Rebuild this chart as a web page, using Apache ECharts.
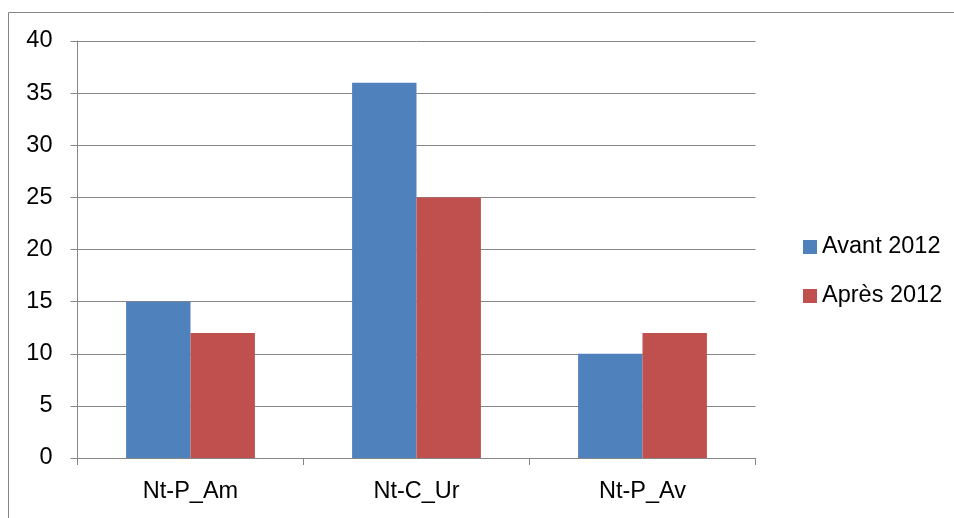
<!DOCTYPE html>
<html>
<head>
<meta charset="utf-8">
<script src="https://cdn.jsdelivr.net/npm/echarts@6/dist/echarts.min.js"></script>
<style>
html,body{margin:0;padding:0;background:#fff;}
#chart{width:954px;height:518px;}
</style>
</head>
<body>
<div id="chart"></div>
<script>
var categories = ['Nt-P_Am', 'Nt-C_Ur', 'Nt-P_Av'];
var seriesNames = ['Avant 2012', 'Après 2012'];
var avant2012 = [15, 36, 10];
var apres2012 = [12, 25, 12];
var yTicks = [0, 5, 10, 15, 20, 25, 30, 35, 40];

var FONT = '"Liberation Sans", Arial, sans-serif';
var GREY = '#868686';
var FS = 23.5;

var chart = echarts.init(document.getElementById('chart'), null, {renderer: 'canvas'});
chart.setOption({
  animation: false,
  backgroundColor: '#ffffff',
  graphic: [{
    type: 'rect',
    shape: {x: 8.5, y: 12.5, width: 2000, height: 2000},
    style: {fill: 'none', stroke: GREY, lineWidth: 1},
    silent: true
  }],
  grid: {left: 77.5, right: 198.5, top: 41, bottom: 60, containLabel: false},
  legend: {
    orient: 'vertical',
    left: 798,
    top: 230,
    itemWidth: 14,
    itemHeight: 14,
    itemGap: 25,
    icon: 'rect',
    data: seriesNames,
    textStyle: {fontFamily: FONT, fontSize: FS, color: '#000', lineHeight: 24}
  },
  xAxis: {
    type: 'category',
    data: categories,
    axisLine: {show: true, lineStyle: {color: GREY, width: 1}},
    axisTick: {show: true, length: 7, lineStyle: {color: GREY}},
    axisLabel: {fontFamily: FONT, fontSize: FS, color: '#000', margin: 22}
  },
  yAxis: {
    type: 'value',
    min: yTicks[0],
    max: yTicks[yTicks.length - 1],
    interval: 5,
    axisLine: {show: true, lineStyle: {color: GREY, width: 1}},
    axisTick: {show: true, length: 7, lineStyle: {color: GREY}},
    splitLine: {show: true, lineStyle: {color: GREY, width: 1}},
    axisLabel: {fontFamily: FONT, fontSize: FS, color: '#000', margin: 25}
  },
  series: [
    {
      name: seriesNames[0],
      type: 'bar',
      data: avant2012,
      barGap: '0%',
      barCategoryGap: '43%',
      itemStyle: {color: '#4F81BD'}
    },
    {
      name: seriesNames[1],
      type: 'bar',
      data: apres2012,
      barGap: '0%',
      barCategoryGap: '43%',
      itemStyle: {color: '#C0504D'}
    }
  ]
});
</script>
</body>
</html>
